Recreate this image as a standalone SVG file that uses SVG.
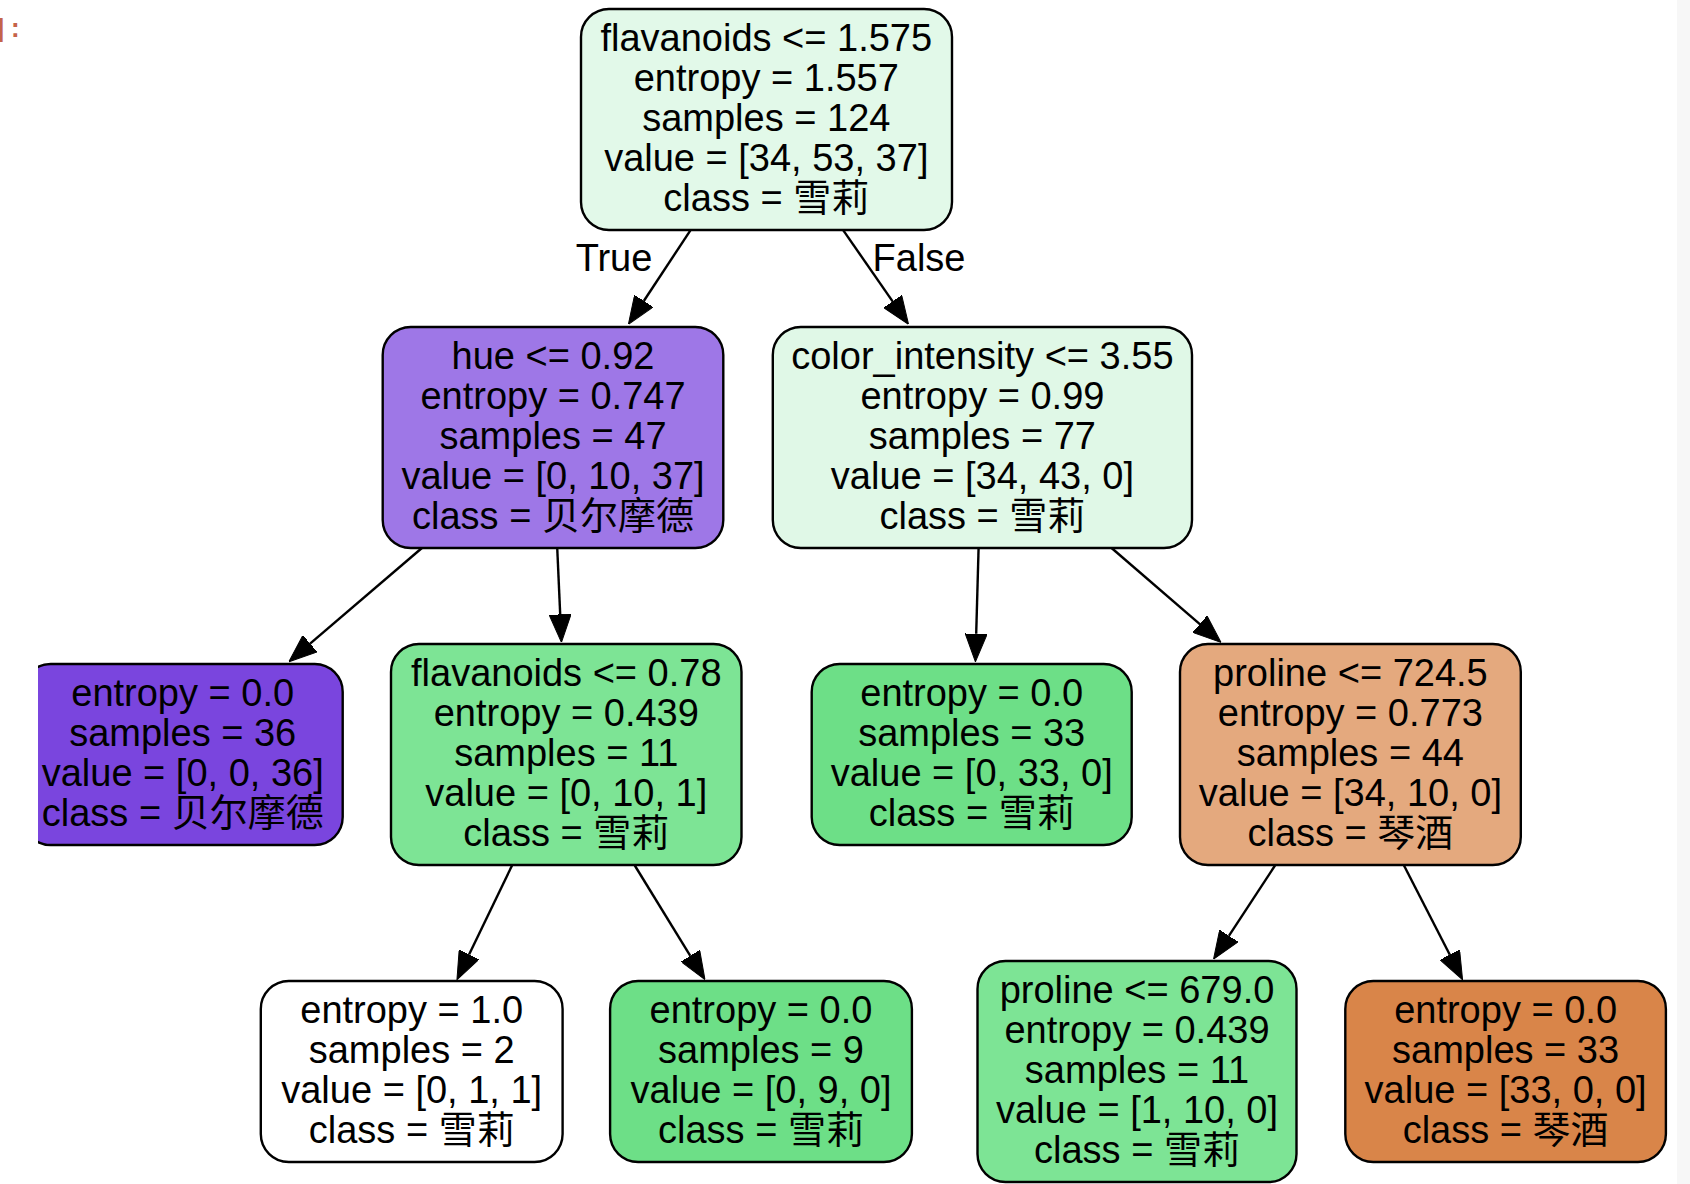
<svg xmlns="http://www.w3.org/2000/svg" width="1690" height="1184" viewBox="0 0 1690 1184">
<style>
  .box { stroke: #000; stroke-width: 2.4; }
  .t { font-family: 'Liberation Sans', Arial, Helvetica, 'Noto Sans CJK SC', sans-serif; font-size: 38px; fill: #000; text-anchor: middle; }
  .edge { stroke: #000; stroke-width: 2.4; fill: none; marker-end: url(#arr); }
  .prompt { font-family: 'Liberation Mono', 'DejaVu Sans Mono', monospace; font-size: 26px; font-weight: bold; fill: #c5634a; }
</style>
<defs>
  <marker id="arr" viewBox="0 0 28 22" refX="0" refY="11" markerWidth="28" markerHeight="22" markerUnits="userSpaceOnUse" orient="auto">
    <path d="M0,0 L28,11 L0,22 Z" fill="#000" stroke="#000" stroke-width="1"/>
  </marker>
  <clipPath id="leftclip"><rect x="38" y="0" width="1652" height="1184"/></clipPath>
</defs>
<rect x="0" y="0" width="1690" height="1184" fill="#fff"/>
<rect x="1677" y="0" width="13" height="1184" fill="#f7f7f7"/>
<text class="prompt" x="23" y="37" text-anchor="end">]:</text>

<g id="edges">
  <line class="edge" x1="690.9" y1="229.6" x2="643.8" y2="301.0"/>
  <line class="edge" x1="842.8" y1="229.6" x2="892.6" y2="301.4"/>
  <line class="edge" x1="422.5" y1="547.5" x2="310.1" y2="643.6"/>
  <line class="edge" x1="557.2" y1="547.5" x2="560.2" y2="614.4"/>
  <line class="edge" x1="978.6" y1="547.5" x2="976.2" y2="633.8"/>
  <line class="edge" x1="1111" y1="547.5" x2="1199.8" y2="624.1"/>
  <line class="edge" x1="512" y1="865.5" x2="469.1" y2="954.5"/>
  <line class="edge" x1="634.8" y1="865.5" x2="690.3" y2="955.8"/>
  <line class="edge" x1="1275" y1="865.5" x2="1228.9" y2="935.8"/>
  <line class="edge" x1="1404" y1="865.5" x2="1449.8" y2="954.8"/>
  <text class="t" x="614" y="271">True</text>
  <text class="t" x="919" y="271">False</text>
</g>

<g id="node0">
  <rect class="box" x="581" y="9" width="371" height="221" rx="28" fill="#e2f9e9"/>
  <text class="t" x="766.3" y="51">flavanoids &lt;= 1.575</text>
  <text class="t" x="766.3" y="91">entropy = 1.557</text>
  <text class="t" x="766.3" y="131">samples = 124</text>
  <text class="t" x="766.3" y="171">value = [34, 53, 37]</text>
  <text class="t" x="766.3" y="211">class = 雪莉</text>
</g>

<g id="node1">
  <rect class="box" x="382.7" y="327" width="340.6" height="221" rx="28" fill="#9e77e7"/>
  <text class="t" x="553" y="369">hue &lt;= 0.92</text>
  <text class="t" x="553" y="409">entropy = 0.747</text>
  <text class="t" x="553" y="449">samples = 47</text>
  <text class="t" x="553" y="489">value = [0, 10, 37]</text>
  <text class="t" x="553" y="529">class = 贝尔摩德</text>
</g>

<g id="node2">
  <rect class="box" x="772.8" y="327" width="419.2" height="221" rx="28" fill="#e0f8e7"/>
  <text class="t" x="982.4" y="369">color_intensity &lt;= 3.55</text>
  <text class="t" x="982.4" y="409">entropy = 0.99</text>
  <text class="t" x="982.4" y="449">samples = 77</text>
  <text class="t" x="982.4" y="489">value = [34, 43, 0]</text>
  <text class="t" x="982.4" y="529">class = 雪莉</text>
</g>

<g id="node3" clip-path="url(#leftclip)">
  <rect class="box" x="22.7" y="664" width="320" height="181" rx="28" fill="#7a45de"/>
  <text class="t" x="182.7" y="706">entropy = 0.0</text>
  <text class="t" x="182.7" y="746">samples = 36</text>
  <text class="t" x="182.7" y="786">value = [0, 0, 36]</text>
  <text class="t" x="182.7" y="826">class = 贝尔摩德</text>
</g>

<g id="node4">
  <rect class="box" x="391" y="644" width="350.5" height="221" rx="28" fill="#7de495"/>
  <text class="t" x="566.3" y="686">flavanoids &lt;= 0.78</text>
  <text class="t" x="566.3" y="726">entropy = 0.439</text>
  <text class="t" x="566.3" y="766">samples = 11</text>
  <text class="t" x="566.3" y="806">value = [0, 10, 1]</text>
  <text class="t" x="566.3" y="846">class = 雪莉</text>
</g>

<g id="node5">
  <rect class="box" x="811.7" y="664" width="320" height="181" rx="28" fill="#6ddf87"/>
  <text class="t" x="971.7" y="706">entropy = 0.0</text>
  <text class="t" x="971.7" y="746">samples = 33</text>
  <text class="t" x="971.7" y="786">value = [0, 33, 0]</text>
  <text class="t" x="971.7" y="826">class = 雪莉</text>
</g>

<g id="node6">
  <rect class="box" x="1180" y="644" width="340.8" height="221" rx="28" fill="#e4a97e"/>
  <text class="t" x="1350.4" y="686">proline &lt;= 724.5</text>
  <text class="t" x="1350.4" y="726">entropy = 0.773</text>
  <text class="t" x="1350.4" y="766">samples = 44</text>
  <text class="t" x="1350.4" y="806">value = [34, 10, 0]</text>
  <text class="t" x="1350.4" y="846">class = 琴酒</text>
</g>

<g id="node7">
  <rect class="box" x="260.8" y="981" width="301.8" height="181" rx="28" fill="#ffffff"/>
  <text class="t" x="411.7" y="1023">entropy = 1.0</text>
  <text class="t" x="411.7" y="1063">samples = 2</text>
  <text class="t" x="411.7" y="1103">value = [0, 1, 1]</text>
  <text class="t" x="411.7" y="1143">class = 雪莉</text>
</g>

<g id="node8">
  <rect class="box" x="610.1" y="981" width="301.8" height="181" rx="28" fill="#6ddf87"/>
  <text class="t" x="761" y="1023">entropy = 0.0</text>
  <text class="t" x="761" y="1063">samples = 9</text>
  <text class="t" x="761" y="1103">value = [0, 9, 0]</text>
  <text class="t" x="761" y="1143">class = 雪莉</text>
</g>

<g id="node9">
  <rect class="box" x="977.5" y="961" width="319" height="221" rx="28" fill="#7de495"/>
  <text class="t" x="1137" y="1003">proline &lt;= 679.0</text>
  <text class="t" x="1137" y="1043">entropy = 0.439</text>
  <text class="t" x="1137" y="1083">samples = 11</text>
  <text class="t" x="1137" y="1123">value = [1, 10, 0]</text>
  <text class="t" x="1137" y="1163">class = 雪莉</text>
</g>

<g id="node10">
  <rect class="box" x="1345.3" y="981" width="320.6" height="181" rx="28" fill="#d98549"/>
  <text class="t" x="1505.6" y="1023">entropy = 0.0</text>
  <text class="t" x="1505.6" y="1063">samples = 33</text>
  <text class="t" x="1505.6" y="1103">value = [33, 0, 0]</text>
  <text class="t" x="1505.6" y="1143">class = 琴酒</text>
</g>
</svg>
